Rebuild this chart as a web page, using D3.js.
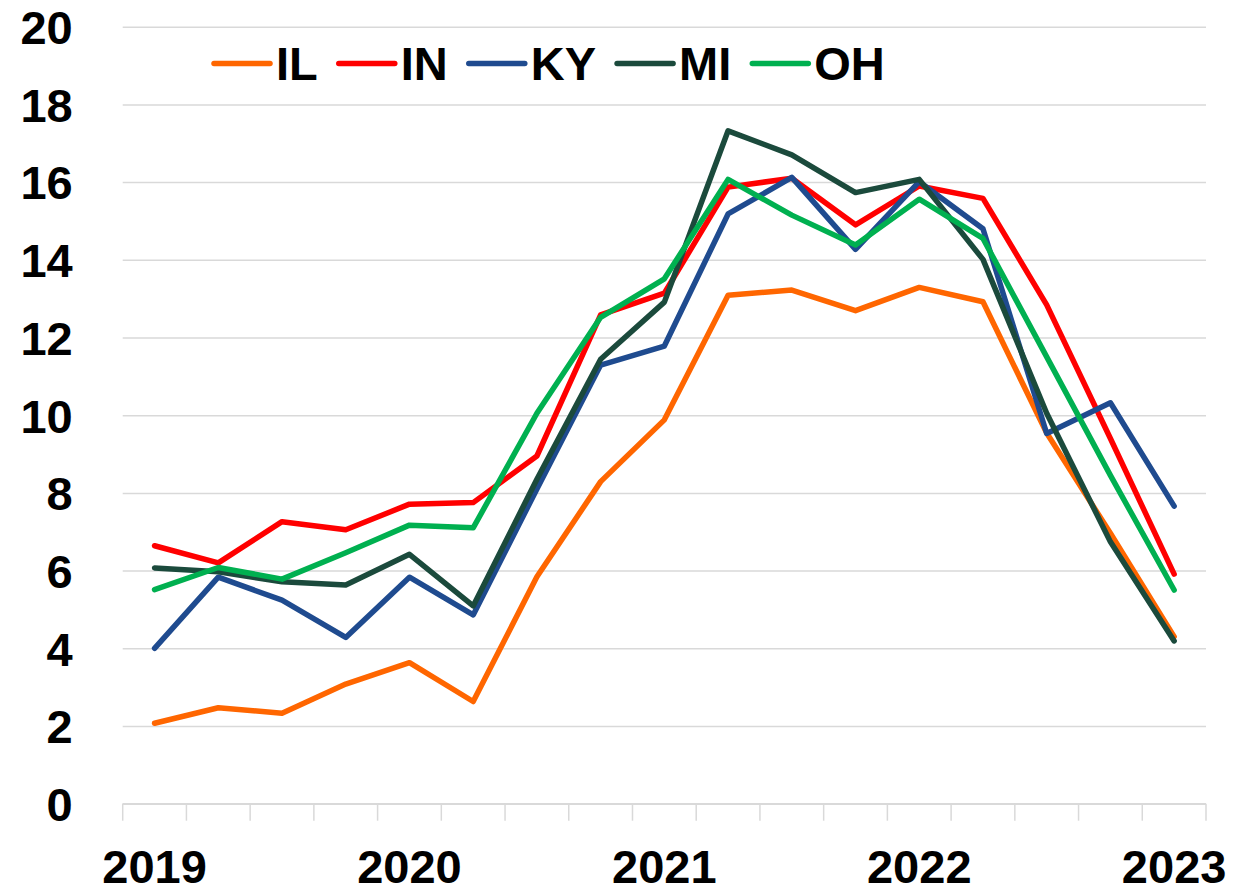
<!DOCTYPE html>
<html>
<head>
<meta charset="utf-8">
<script src="https://cdn.jsdelivr.net/npm/d3@7"></script>
<style>
  html, body { margin: 0; padding: 0; background: #ffffff; }
  svg { display: block; }
  text { font-family: "Liberation Sans", Arial, sans-serif; font-weight: bold; fill: #000; }
</style>
</head>
<body>
<svg id="chart" width="1250" height="894"></svg>
<script>
// ---- data ----
const quarters = ["2019Q1","2019Q2","2019Q3","2019Q4","2020Q1","2020Q2","2020Q3","2020Q4",
                  "2021Q1","2021Q2","2021Q3","2021Q4","2022Q1","2022Q2","2022Q3","2022Q4","2023Q1"];
const xTickLabels = ["2019","","","","2020","","","","2021","","","","2022","","","","2023"];
const yTicks = [0, 2, 4, 6, 8, 10, 12, 14, 16, 18, 20];
const seriesNames = ["IL", "IN", "KY", "MI", "OH"];
const seriesColors = ["#FF6600", "#FF0000", "#1F4B8F", "#1B4A3C", "#00B050"];
const IL = [2.07, 2.47, 2.33, 3.08, 3.63, 2.63, 5.84, 8.29, 9.88, 13.09, 13.22, 12.69, 13.29, 12.92, 9.54, 6.96, 4.30];
const IN = [6.64, 6.20, 7.26, 7.05, 7.71, 7.75, 8.95, 12.58, 13.14, 15.87, 16.10, 14.90, 15.90, 15.58, 12.84, 9.40, 5.91];
const KY = [4.00, 5.83, 5.24, 4.28, 5.83, 4.86, 8.10, 11.29, 11.78, 15.18, 16.12, 14.27, 16.01, 14.80, 9.53, 10.32, 7.66];
const MI = [6.07, 5.97, 5.71, 5.63, 6.42, 5.09, 8.35, 11.44, 12.91, 17.32, 16.70, 15.73, 16.07, 14.01, 10.05, 6.74, 4.19];
const OH = [5.51, 6.08, 5.78, 6.46, 7.17, 7.10, 10.05, 12.52, 13.51, 16.07, 15.15, 14.38, 15.56, 14.55, 11.50, 8.45, 5.50];
const seriesValues = [IL, IN, KY, MI, OH];

// ---- layout ----
const plot = { left: 122.7, right: 1206, top: 26.7, bottom: 803.7 };
const fontSize = 47;
const gridColor = "#d9d9d9";

const svg = d3.select("#chart");

const x = d3.scaleBand().domain(quarters).range([plot.left, plot.right]).padding(0);
const y = d3.scaleLinear().domain([0, 20]).range([plot.bottom, plot.top]);

// gridlines
svg.append("g")
  .attr("transform", `translate(${plot.left},0)`)
  .call(d3.axisLeft(y).tickValues(yTicks).tickSize(-(plot.right - plot.left)).tickFormat(""))
  .call(g => g.select(".domain").remove())
  .call(g => g.selectAll("line").attr("stroke", gridColor).attr("stroke-width", 1.5));

// y axis labels
svg.append("g")
  .attr("transform", `translate(${plot.left},0)`)
  .call(d3.axisLeft(y).tickValues(yTicks).tickSize(0).tickPadding(50).tickFormat(d3.format("d")))
  .call(g => g.select(".domain").remove())
  .call(g => g.selectAll("text")
      .attr("font-size", fontSize)
      .attr("font-family", "Liberation Sans, Arial, sans-serif")
      .attr("font-weight", "bold")
      .attr("fill", "#000")
      .attr("dy", "0.358em"));

// x axis: line + boundary ticks
const xAxisG = svg.append("g").attr("transform", `translate(0,${plot.bottom})`);
xAxisG.append("line")
  .attr("x1", plot.left).attr("x2", plot.right)
  .attr("y1", 0).attr("y2", 0)
  .attr("stroke", gridColor).attr("stroke-width", 1.5);
const boundaries = quarters.map(q => x(q)).concat([x(quarters[quarters.length - 1]) + x.bandwidth()]);
xAxisG.selectAll("line.tick")
  .data(boundaries)
  .join("line")
  .attr("class", "tick")
  .attr("x1", d => d).attr("x2", d => d)
  .attr("y1", 0).attr("y2", 17)
  .attr("stroke", gridColor).attr("stroke-width", 1.5);

// x labels
svg.append("g")
  .attr("transform", `translate(0,${plot.bottom})`)
  .call(d3.axisBottom(x).tickSize(0).tickFormat((d, i) => xTickLabels[i]))
  .call(g => g.select(".domain").remove())
  .call(g => g.selectAll("text")
      .attr("font-size", fontSize)
      .attr("font-family", "Liberation Sans, Arial, sans-serif")
      .attr("font-weight", "bold")
      .attr("fill", "#000")
      .attr("y", 79.5)
      .attr("dy", 0));

// lines
const line = d3.line()
  .x((d, i) => x(quarters[i]) + x.bandwidth() / 2)
  .y(d => y(d));

svg.append("g")
  .selectAll("path")
  .data(seriesValues)
  .join("path")
  .attr("d", d => line(d))
  .attr("fill", "none")
  .attr("stroke", (d, i) => seriesColors[i])
  .attr("stroke-width", 5.5)
  .attr("stroke-linejoin", "round")
  .attr("stroke-linecap", "round");

// legend
const legend = svg.append("g");
const legendY = 63.5;
let lx = 214;
seriesNames.forEach((name, i) => {
  const g = legend.append("g");
  g.append("line")
    .attr("x1", lx).attr("x2", lx + 56)
    .attr("y1", legendY).attr("y2", legendY)
    .attr("stroke", seriesColors[i]).attr("stroke-width", 5.5)
    .attr("stroke-linecap", "round");
  const t = g.append("text")
    .attr("x", lx + 62)
    .attr("y", 80)
    .attr("font-size", fontSize)
    .text(name);
  const w = t.node().getComputedTextLength();
  lx = lx + 62 + w + 21;
});
</script>
</body>
</html>
